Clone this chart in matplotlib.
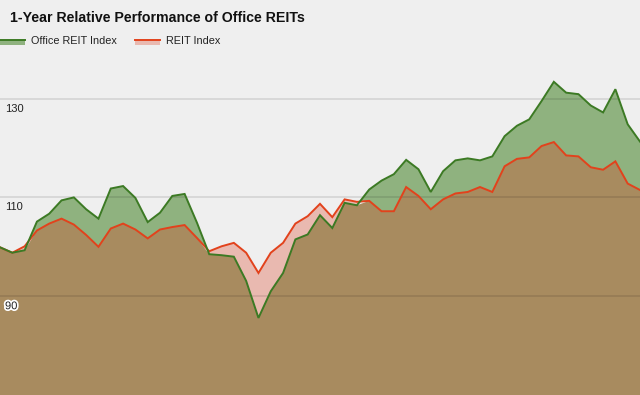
import matplotlib.pyplot as plt
import matplotlib.patheffects as pe
import numpy as np
from matplotlib.lines import Line2D
from matplotlib.patches import Rectangle

plt.rcParams["font.family"] = ["Liberation Sans", "DejaVu Sans"]

# weekly index values over one year
office_reit = [
    99.9, 98.8, 99.3, 105.1, 106.7, 109.4, 110.0, 107.6, 105.7, 111.8,
    112.3, 109.9, 105.0, 106.9, 110.3, 110.7, 104.9, 98.5, 98.3, 98.0,
    93.1, 85.6, 91.0, 94.7, 101.5, 102.5, 106.4, 103.8, 108.9, 108.4,
    111.6, 113.4, 114.7, 117.6, 115.7, 111.1, 115.3, 117.5, 117.9, 117.5,
    118.3, 122.4, 124.5, 125.8, 129.5, 133.4, 131.2, 130.9, 128.6, 127.2,
    131.9, 124.8, 121.3,
]
reit_index = [
    99.9, 98.8, 100.1, 103.3, 104.7, 105.7, 104.5, 102.4, 100.0, 103.7,
    104.7, 103.5, 101.7, 103.5, 104.0, 104.4, 101.8, 99.1, 100.1, 100.8,
    98.8, 94.7, 98.8, 100.8, 104.7, 106.2, 108.7, 106.0, 109.6, 109.1,
    109.3, 107.2, 107.2, 112.1, 110.3, 107.6, 109.6, 110.8, 111.1, 112.1,
    111.1, 116.3, 117.8, 118.1, 120.4, 121.2, 118.5, 118.3, 116.1, 115.6,
    117.3, 112.8, 111.5,
]
y_ticks = [90, 110, 130]
series_labels = ["Office REIT Index", "REIT Index"]
title = "1-Year Relative Performance of Office REITs"

BG = "#efefef"
GREEN_LINE = "#3c7a24"
GREEN_FILL = "#8fb27f"
RED_LINE = "#e2421c"
RED_FILL = "#e9b9b0"
BROWN_FILL = "#a88b5f"

office = np.array(office_reit)
reit = np.array(reit_index)
weeks = np.arange(len(office))
floor = 70

fig = plt.figure(figsize=(6.4, 3.95), dpi=100, facecolor=BG)
ax = fig.add_axes([0, 0, 1, 340 / 395])
ax.set_facecolor(BG)

ax.fill_between(weeks, floor, np.minimum(office, reit), color=BROWN_FILL, lw=0)
ax.fill_between(weeks, reit, office, where=office >= reit, interpolate=True,
                color=GREEN_FILL, lw=0)
ax.fill_between(weeks, office, reit, where=reit >= office, interpolate=True,
                color=RED_FILL, lw=0)

for value in y_ticks:
    ax.axhline(value, color="k", alpha=0.1, lw=1.3, zorder=3)
    # only the label sitting on the brown area gets a visible halo
    halo = [pe.withStroke(linewidth=2.5, foreground="white")] if value < 100 else []
    ax.annotate(str(value), xy=(0, value), xycoords=("axes fraction", "data"),
                xytext=(5, -5), textcoords="offset pixels", ha="left", va="top",
                fontsize=8, color="#222222", zorder=5, path_effects=halo)

ax.plot(weeks, reit, color=RED_LINE, lw=1.4, zorder=4, solid_joinstyle="miter")
ax.plot(weeks, office, color=GREEN_LINE, lw=1.4, zorder=4, solid_joinstyle="miter")

ax.set_xlim(0, len(office) - 1)
ax.set_ylim(floor, floor + 340 / 4.94)
ax.axis("off")

fig.text(10 / 640, 1 - 18 / 395, title, fontsize=10.2, fontweight="bold",
         ha="left", va="center", color="#111111")

# legend swatches drawn by hand to match the source layout
legend_y = 1 - 41 / 395
for x0, fill, line, label in [(0, GREEN_FILL, GREEN_LINE, series_labels[0]),
                              (135, RED_FILL, RED_LINE, series_labels[1])]:
    fig.patches.append(Rectangle((x0 / 640, legend_y - 4 / 395), 25 / 640, 5 / 395,
                                 transform=fig.transFigure, color=fill, lw=0))
    fig.lines.append(Line2D([x0 / 640, (x0 + 25) / 640], [legend_y + 1 / 395] * 2,
                            transform=fig.transFigure, color=line, lw=1.4))
    fig.text((x0 + 31) / 640, legend_y, label, fontsize=7.8, ha="left",
             va="center", color="#222222")

fig.savefig("out.png", dpi=100, facecolor=BG)
